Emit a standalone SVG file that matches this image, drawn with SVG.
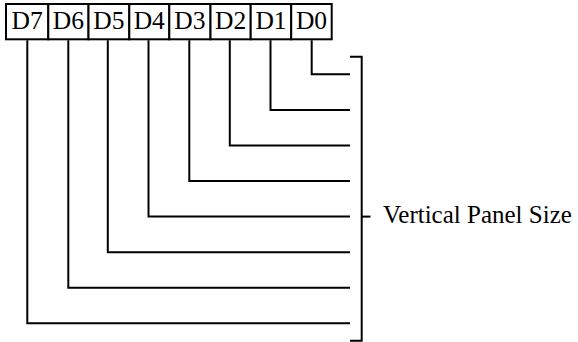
<svg xmlns="http://www.w3.org/2000/svg" width="578" height="342" viewBox="0 0 578 342">
<style>
.box{fill:#fff;stroke:#000;stroke-width:2}
.lbl{font-family:"Liberation Serif","Times New Roman",serif;font-size:25.5px;fill:#000}
.side{font-size:25px}
.ln{fill:none;stroke:#000;stroke-width:2}
</style>
<rect width="578" height="342" fill="#fff"/>
<g id="register">
<g id="D7"><rect class="box" x="6" y="4" width="42.3" height="35.3"/><text class="lbl" x="27.2" y="29" text-anchor="middle">D7</text></g>
<g id="D6"><rect class="box" x="48.3" y="4" width="40.2" height="35.3"/><text class="lbl" x="68.4" y="29" text-anchor="middle">D6</text></g>
<g id="D5"><rect class="box" x="88.5" y="4" width="40.8" height="35.3"/><text class="lbl" x="108.9" y="29" text-anchor="middle">D5</text></g>
<g id="D4"><rect class="box" x="129.3" y="4" width="40" height="35.3"/><text class="lbl" x="149.3" y="29" text-anchor="middle">D4</text></g>
<g id="D3"><rect class="box" x="169.3" y="4" width="41.2" height="35.3"/><text class="lbl" x="189.9" y="29" text-anchor="middle">D3</text></g>
<g id="D2"><rect class="box" x="210.5" y="4" width="40.2" height="35.3"/><text class="lbl" x="230.6" y="29" text-anchor="middle">D2</text></g>
<g id="D1"><rect class="box" x="250.7" y="4" width="40.5" height="35.3"/><text class="lbl" x="271" y="29" text-anchor="middle">D1</text></g>
<g id="D0"><rect class="box" x="291.2" y="4" width="40.5" height="35.3"/><text class="lbl" x="311.5" y="29" text-anchor="middle">D0</text></g>
</g>
<g id="connectors">
<path class="ln" d="M311.7,40.3 V74.3 H350"/>
<path class="ln" d="M270.5,40.3 V109.9 H350"/>
<path class="ln" d="M229.8,40.3 V145.5 H350"/>
<path class="ln" d="M189.3,40.3 V181 H350"/>
<path class="ln" d="M148.5,40.3 V216.6 H350"/>
<path class="ln" d="M107.8,40.3 V252.2 H350"/>
<path class="ln" d="M68.3,40.3 V287.7 H350"/>
<path class="ln" d="M27.3,40.3 V323.3 H350"/>
</g>
<g id="bracket">
<path class="ln" d="M350,56.7 H361.7 V340.7 H350"/>
<path class="ln" d="M361.7,216.6 H370.5"/>
<text class="lbl side" x="383" y="223">Vertical Panel Size</text>
</g>
</svg>
